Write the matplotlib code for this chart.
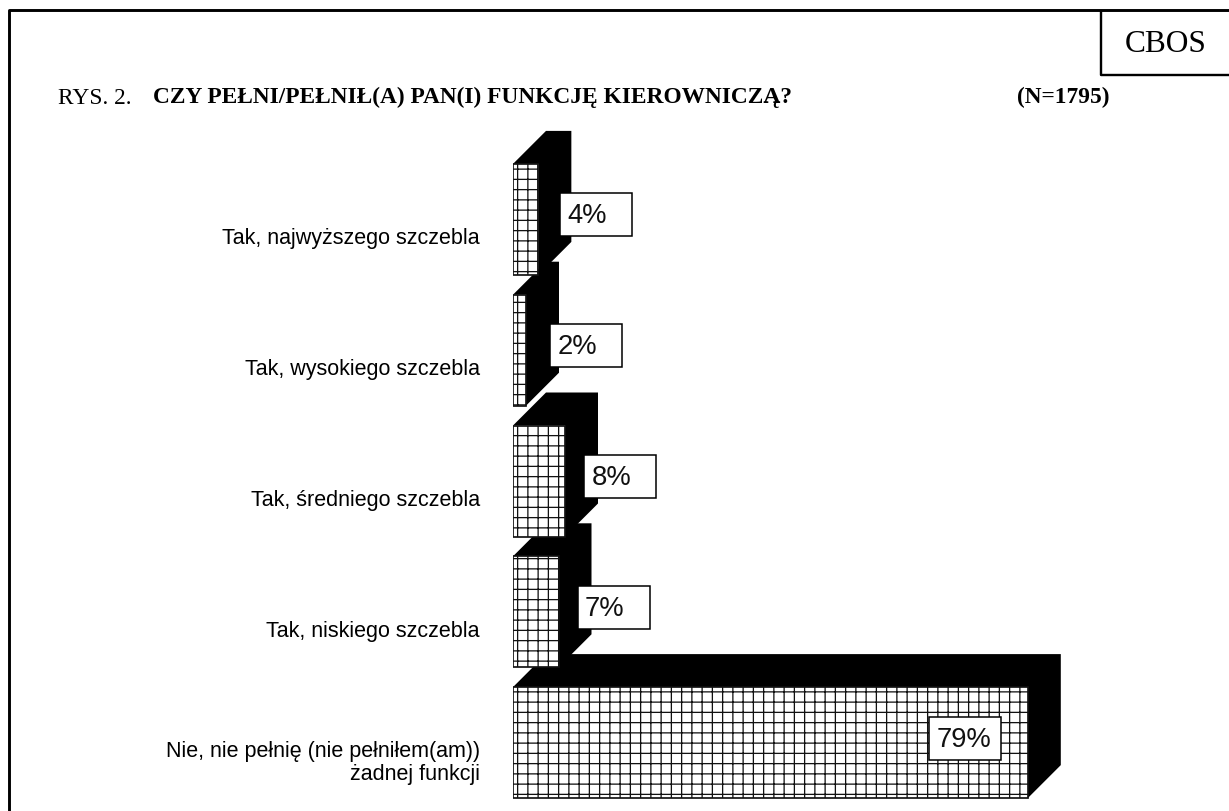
import matplotlib
matplotlib.use('agg')

import matplotlib.pyplot as plt
from matplotlib.patches import Polygon, Rectangle

categories = ['Tak, najwyższego szczebla',
              'Tak, wysokiego szczebla',
              'Tak, średniego szczebla',
              'Tak, niskiego szczebla',
              'Nie, nie pełnię (nie pełniłem(am))\nżadnej funkcji']
values = [3.9, 2, 8, 7, 79.2]
value_labels = ['4%', '2%', '8%', '7%', '79%']

# hatch tile is one inch, so dpi sets the grid pitch
DPI = 123
W, H = 1229, 811

plt.rcParams['hatch.linewidth'] = 0.75

fig = plt.figure(figsize=(W / DPI, H / DPI), dpi=DPI)

# x: 6.5 px per percent from x=513, y: one category = 130.8 px
ax = fig.add_axes([513 / W, 1 - 808 / H, 650 / W, 654 / H])
ax.set_xlim(0, 100)
ax.set_ylim(4.5, -0.5)
for s in ax.spines.values():
    s.set_visible(False)
ax.patch.set_alpha(0)
ax.set_xticks([])

PX_X = 100 / 650
PX_Y = 5 / 654
depth_x = 33 * PX_X
depth_y = 33 * PX_Y
bar_h = 111 * PX_Y

bars = ax.barh(range(len(values)), values, height=bar_h, color='white',
               edgecolor='#111111', hatch='++', linewidth=1.0, zorder=3)

for i, v in enumerate(values):
    top = i - bar_h / 2
    bot = i + bar_h / 2
    ax.add_patch(Polygon([(0, top), (depth_x, top - depth_y), (v + depth_x, top - depth_y),
                          (v + depth_x, bot - depth_y), (v, bot), (v, top)],
                         closed=True, fc='black', ec='none', zorder=2 + i * 0.01, clip_on=False))

# label boxes, offsets from the bar end in px
box_dx = [22, 24, 19, 19, -99]
for i, v in enumerate(values):
    x0 = v + box_dx[i] * PX_X
    y0 = i - 26 * PX_Y
    ax.add_patch(Rectangle((x0, y0), 72 * PX_X, 43 * PX_Y, fc='white', ec='black',
                           linewidth=0.9, zorder=5))
    ax.text(x0 + 7.5 * PX_X, y0 + 23 * PX_Y, value_labels[i], family='Liberation Sans',
            fontsize=16, color='#111111', va='center', ha='left', zorder=6)

ax.set_yticks([i + 17 * PX_Y for i in range(len(categories))])
ax.set_yticklabels(categories, family='Liberation Sans', fontsize=12.6, color='black',
                   linespacing=1.1)
ax.tick_params(axis='y', length=0, pad=33 * 72 / DPI)

# page frame and header, figure pixel coordinates
page = fig.add_axes([0, 0, 1, 1], zorder=-1)
page.set_xlim(0, W)
page.set_ylim(H, 0)
page.axis('off')
page.plot([9, 9, W], [H, 10, 10], color='black', lw=1.7, solid_capstyle='butt')
page.plot([1101, 1101, W], [10, 75, 75], color='black', lw=1.4, solid_capstyle='butt')
page.text(1166, 52, 'CBOS', family='Liberation Serif', fontsize=18.4, ha='center', va='baseline')
page.text(58, 103.5, 'RYS. 2.', family='Liberation Serif', fontsize=13.7, va='baseline')
page.text(153, 103.5, 'CZY PEŁNI/PEŁNIŁ(A) PAN(I) FUNKCJĘ KIEROWNICZĄ?', family='Liberation Serif',
          fontsize=13.7, weight='bold', va='baseline')
page.text(1017, 103.5, '(N=1795)', family='Liberation Serif', fontsize=13.7, weight='bold',
          va='baseline')

fig.savefig('out.png', dpi=DPI)
